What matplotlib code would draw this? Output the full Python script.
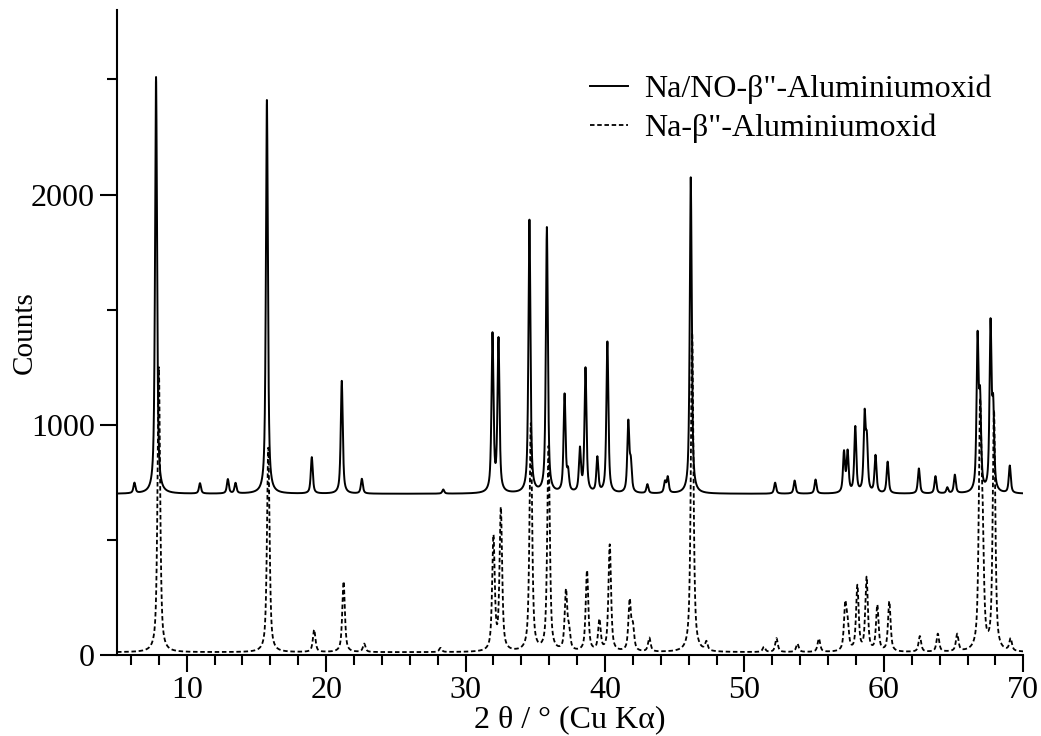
import numpy as np
import matplotlib
matplotlib.use("Agg")
import matplotlib.pyplot as plt

plt.rcParams["font.family"] = ["Liberation Serif", "DejaVu Serif"]

# Na/NO-beta''-alumina (solid trace, offset baseline)
nano_base = 700
nano_pos = [6.25, 7.8, 10.95, 12.95, 13.5, 15.75, 18.97, 21.12, 22.56, 28.4,
            31.93, 32.36, 34.58, 35.83, 37.1, 37.35, 38.2, 38.6, 39.45, 40.17,
            41.67, 41.85, 43.04, 44.3, 44.5, 46.15, 52.2, 53.6, 55.1, 57.14,
            57.4, 57.95, 58.62, 58.78, 59.4, 60.27, 62.51, 63.7, 64.55, 65.09,
            66.72, 66.9, 67.65, 67.84, 69.03]
nano_top = [745, 2510, 745, 762, 745, 2410, 858, 1190, 764, 718,
            1383, 1361, 1885, 1852, 1123, 780, 884, 1239, 851, 1357,
            1003, 819, 739, 748, 768, 2074, 748, 757, 761, 874,
            874, 985, 1026, 906, 862, 837, 809, 775, 725, 780,
            1351, 1065, 1413, 1036, 819]

# Na-beta''-alumina (dashed trace)
na_base = 12
na_pos = [8.0, 15.85, 19.14, 21.25, 22.73, 28.2, 32.0, 32.53, 34.68, 35.95,
          37.2, 37.42, 38.71, 39.6, 40.34, 41.77, 42.0, 43.18, 46.25, 47.27,
          51.4, 52.3, 53.8, 55.34, 57.23, 57.4, 58.1, 58.76, 59.53, 60.39,
          62.58, 63.87, 65.26, 66.9, 67.08, 67.9, 69.09]
na_top = [1250, 900, 109, 319, 48, 30, 503, 626, 1000, 900,
          268, 87, 362, 145, 475, 228, 110, 72, 1400, 50,
          35, 72, 48, 70, 205, 110, 294, 330, 210, 229,
          80, 90, 87, 1000, 440, 1050, 65]

x = np.arange(5.0, 70.0, 0.01)


def pattern(pos, top, base, fwhm, eta=0.7):
    y = np.full_like(x, float(base))
    for p, t in zip(pos, top):
        a = t - base
        lor = 1.0 / (1.0 + ((x - p) / (fwhm / 2)) ** 2)
        gau = np.exp(-4 * np.log(2) * ((x - p) / fwhm) ** 2)
        y += a * (eta * lor + (1 - eta) * gau)
    return y


y_nano = pattern(nano_pos, nano_top, nano_base, 0.17)
y_na = pattern(na_pos, na_top, na_base, 0.22)

fig = plt.figure(figsize=(10.41, 7.36), dpi=100)
ax = fig.add_axes([0.1124, 0.110, 0.8706, 0.876])

ax.plot(x, y_nano, color="black", lw=1.4, label='Na/NO-β"-Aluminiumoxid')
ax.plot(x, y_na, color="black", lw=1.3, dashes=(2.5, 1.5), label='Na-β"-Aluminiumoxid')

ax.set_xlim(5, 70)
ax.set_ylim(0, 2800)
ax.set_xticks(np.arange(10, 71, 10))
ax.set_xticks(np.arange(6, 70, 2), minor=True)
ax.set_yticks([0, 1000, 2000])
ax.set_yticks([500, 1500, 2500], minor=True)
for s in ("top", "right"):
    ax.spines[s].set_visible(False)
for s in ("left", "bottom"):
    ax.spines[s].set_linewidth(1.5)
ax.tick_params(which="major", direction="out", length=12, width=1.5, labelsize=23)
ax.tick_params(which="minor", direction="out", length=7, width=1.5)
ax.tick_params(axis="x", pad=3)
ax.tick_params(axis="y", pad=4)

ax.set_xlabel("2 θ / ° (Cu Kα)", fontsize=23, labelpad=0)
ax.set_ylabel("Counts", fontsize=21)
ax.yaxis.set_label_coords(-0.087, 0.5)

ax.legend(loc="upper right", bbox_to_anchor=(0.979, 0.92), frameon=False,
          fontsize=23, handlelength=1.2, handletextpad=0.5, labelspacing=0.3,
          borderaxespad=0)

fig.savefig("out.png", dpi=100)
